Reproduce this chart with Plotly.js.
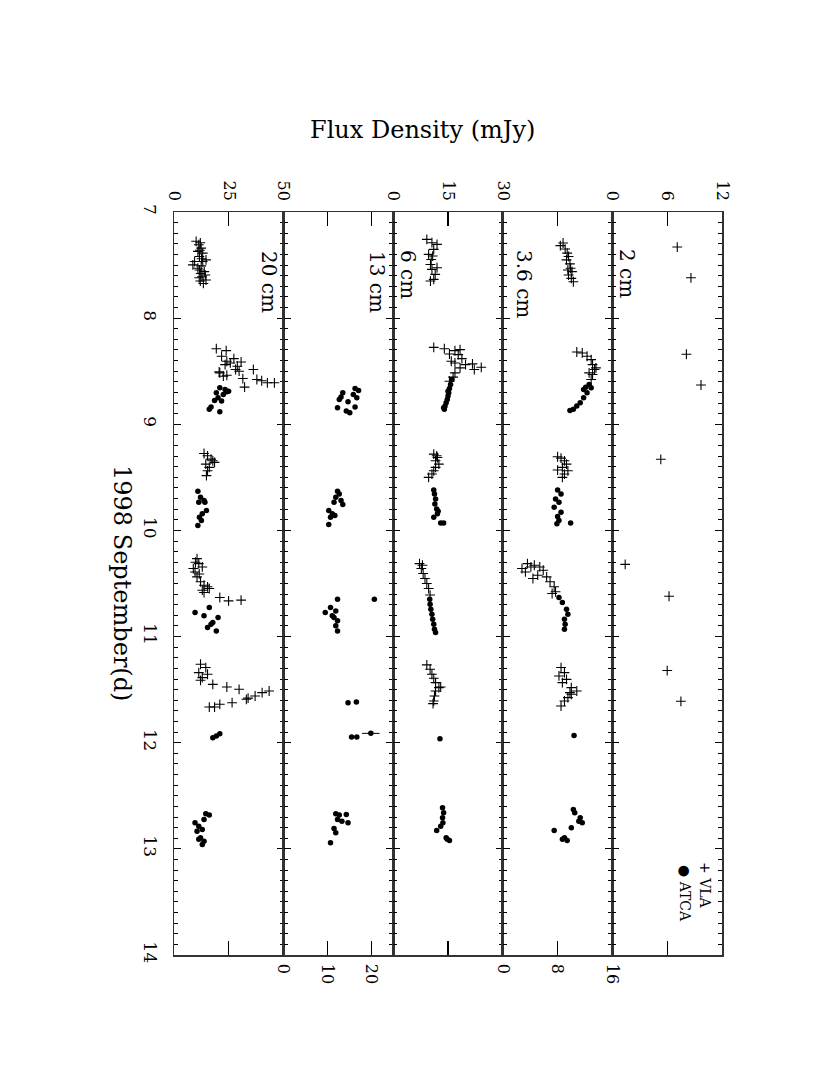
<!DOCTYPE html>
<html>
<head>
<meta charset="utf-8">
<script src="https://cdn.plot.ly/plotly-3.0.1.min.js"></script>
<style>
html,body{margin:0;padding:0;background:#fff;}
#chart{width:830px;height:1074px;}
</style>
</head>
<body>
<div id="chart"></div>
<script>
// ---------- DATA (time in 1998 September days, flux in mJy) ----------
const bands = ["20 cm", "13 cm", "6 cm", "3.6 cm", "2 cm"];
const fluxRanges = [[0, 50], [0, 25], [0, 30], [0, 16], [0, 12]];
const fluxTicks = [[0, 25, 50], [0, 10, 20], [0, 15, 30], [0, 8, 16], [0, 6, 12]];
const timeRange = [7, 14];

// 20 cm
const vla20_t = [7.276,7.308,7.34,7.371,7.387,7.419,7.467,7.467,7.451,7.508,7.546,7.562,7.61,7.641,7.673,7.498,7.53,7.594,7.29,7.36,7.44,7.58,7.65,7.62,
  8.288,8.306,8.359,8.406,8.381,8.413,8.453,8.438,8.506,8.538,8.5,8.484,8.569,8.578,8.609,8.609,8.65,8.422,8.547,8.516,8.484,8.59,
  9.275,9.297,9.328,9.359,9.375,9.406,9.438,9.484,9.344,
  10.266,10.313,10.359,10.391,10.344,10.438,10.484,10.516,10.531,10.563,10.547,10.585,10.632,10.664,10.657,10.30,10.41,
  11.261,11.292,11.34,11.387,11.355,11.412,11.45,11.475,11.497,11.528,11.513,11.56,11.591,11.623,11.638,11.664,11.664,11.58];
const vla20_f = [10.1,11.3,12.4,10.9,13.1,11.6,9.4,13.1,14.6,12.4,11.6,13.8,12.8,14.6,13.4,8.6,10.9,14.3,12.0,11.8,12.6,12.2,12.0,11.5,
  19.3,23.8,21.7,24.1,27.3,30.6,28.9,23.3,20.6,24.1,29.7,36.2,31.4,37.8,42.6,45.8,32.2,25.7,22.5,20.9,28.1,40.0,
  13.7,15.3,16.9,18.5,14.5,16.1,15.3,14.8,17.7,
  10.5,11.3,8.8,9.6,12.9,10.5,12.1,13.7,15.3,12.9,16.1,13.7,20.9,24.9,30.6,9.8,11.5,
  12.1,14.5,11.3,12.9,15.3,12.1,17.7,24.1,29.7,40.2,43.4,37.0,33.0,26.5,20.9,18.5,16.1,33.8];
const atca20_t = [8.656,8.672,8.688,8.703,8.719,8.75,8.775,8.781,8.838,8.859,8.881,8.694,
  9.631,9.688,9.719,9.734,9.813,9.844,9.875,9.906,9.953,9.734,
  10.774,10.805,10.726,10.82,10.868,10.915,10.947,10.884,
  11.937,11.915,11.953,
  12.67,12.682,12.723,12.755,12.786,12.818,12.833,12.896,12.928,12.959,12.91];
const atca20_f = [20.9,23.3,24.9,19.3,22.5,20.1,18.5,21.7,16.9,16.1,20.9,24.1,
  10.9,12.1,13.7,11.3,14.8,12.9,11.6,12.5,10.9,14.1,
  9.6,13.7,16.1,20.1,17.7,15.3,19.3,16.9,
  19.3,20.9,17.7,
  14.5,16.1,13.7,9.6,11.3,12.9,10.5,12.1,13.7,12.9,11.3];

// 13 cm (ATCA only)
const atca13_t = [8.663,8.681,8.703,8.719,8.75,8.766,8.788,8.844,8.838,8.875,8.891,8.744,
  9.631,9.656,9.688,9.719,9.756,9.734,9.813,9.844,9.875,9.944,9.86,
  10.648,10.648,10.774,10.726,10.758,10.805,10.852,10.899,10.947,10.82,
  11.623,11.616,11.947,11.947,11.912,
  12.67,12.682,12.676,12.723,12.755,12.808,12.849,12.943,12.739];
const atca13_f = [16.3,17.1,13.5,15.9,16.7,12.7,14.7,12.3,16.3,14.3,15.1,13.1,
  12.3,12.7,11.9,13.1,13.5,11.5,10.3,11.1,10.7,10.3,11.7,
  12.3,20.7,9.5,10.7,11.9,11.1,12.3,11.9,12.3,11.5,
  14.7,16.6,15.5,16.7,19.9,
  11.9,12.7,14.3,12.3,14.7,11.5,11.9,10.7,13.3];
const atca13_err = [0,0,0,0,0,0,0,0,0,0,0,0,
  0,0,0,0,0,0,0,0,0,0,0,
  0,0,0,0,0,0,0,0,0,0,
  0,0,0,0,2.0,
  0,0,0,0,0,0,0,0,0];

// 6 cm
const vla6_t = [7.258,7.289,7.305,7.352,7.399,7.447,7.494,7.541,7.588,7.635,7.65,7.525,7.415,
  8.275,8.288,8.306,8.297,8.338,8.344,8.406,8.381,8.422,8.438,8.431,8.463,8.484,8.469,8.516,8.556,8.594,
  9.281,9.313,9.344,9.375,9.406,9.438,9.469,9.5,9.297,
  10.313,10.359,10.406,10.453,10.5,10.547,10.609,10.328,
  11.267,11.308,11.355,11.393,11.434,11.481,11.513,11.56,11.607,11.632,11.475];
const vla6_f = [9.2,10.6,12.0,11.1,9.7,10.4,10.2,10.6,11.5,11.1,10.2,12.0,10.8,
  11.1,14.0,16.9,18.3,15.4,17.8,15.9,18.8,16.9,19.8,21.7,24.1,22.2,18.3,16.9,16.4,15.4,
  11.1,12.1,11.6,12.5,11.6,11.1,10.6,9.7,11.9,
  7.2,7.7,8.2,8.7,9.2,9.7,10.1,8.0,
  9.2,10.1,10.6,11.1,11.6,12.5,11.6,11.3,11.1,10.9,13.0];
const atca6_t = [8.578,8.625,8.663,8.703,8.734,8.766,8.797,8.828,8.859,8.844,8.688,
  9.619,9.656,9.703,9.75,9.797,9.844,9.875,9.931,9.931,9.82,
  10.648,10.695,10.742,10.789,10.836,10.884,10.931,10.962,
  11.962,
  12.613,12.66,12.708,12.755,12.786,12.827,12.896,12.921,12.91];
const atca6_f = [16.1,15.7,15.4,15.2,15.0,14.8,14.5,14.2,14.0,13.8,15.0,
  11.1,11.3,11.6,11.4,11.9,12.1,11.1,13.0,13.8,12.3,
  10.0,10.1,10.3,10.6,10.8,11.1,11.3,11.6,
  12.8,
  13.5,13.8,13.5,13.6,13.0,11.9,14.5,15.4,14.8];

// 3.6 cm
const vla36_t = [7.317,7.292,7.349,7.387,7.419,7.451,7.489,7.53,7.562,7.594,7.625,7.657,7.546,
  8.319,8.328,8.359,8.391,8.438,8.484,8.469,8.531,8.578,8.516,
  9.306,9.319,9.344,9.375,9.406,9.431,9.438,9.469,9.5,
  10.359,10.313,10.344,10.328,10.344,10.375,10.453,10.422,10.438,10.484,10.531,10.578,10.594,10.391,
  11.292,11.34,11.371,11.403,11.434,11.481,11.513,11.544,11.575,11.607,11.654,11.528];
const vla36_f = [8.4,8.8,9.1,9.4,9.6,9.3,9.8,9.9,10.1,9.6,10.0,10.3,9.5,
  10.8,11.6,12.3,12.9,13.1,13.4,13.6,13.1,12.9,12.6,
  8.0,8.5,9.0,9.3,8.7,8.0,9.5,9.0,8.7,
  2.8,3.6,4.1,4.6,5.4,5.9,4.4,5.1,6.4,6.9,7.5,7.7,7.2,3.3,
  8.5,9.0,8.2,9.3,8.7,10.0,10.8,10.0,9.5,9.0,8.5,9.8];
const atca36_t = [8.625,8.65,8.656,8.703,8.75,8.797,8.828,8.859,8.869,8.672,
  9.619,9.656,9.703,9.734,9.781,9.828,9.869,9.906,9.931,9.938,
  10.632,10.679,10.742,10.789,10.836,10.884,10.931,
  11.931,
  12.629,12.66,12.708,12.755,12.802,12.827,12.896,12.921,12.91,12.739];
const atca36_f = [12.6,12.1,12.9,12.3,11.8,11.3,10.8,10.3,9.8,11.8,
  8.0,8.5,7.7,8.2,7.5,8.5,8.0,8.2,9.9,7.9,
  8.2,8.7,9.3,9.5,9.0,9.1,9.0,
  10.4,
  10.3,10.5,11.3,11.6,10.0,7.5,9.0,9.4,8.7,11.1];

// 2 cm (VLA only)
const vla2_t = [7.33,7.62,8.34,8.63,9.33,10.32,10.62,11.32,11.61];
const vla2_f = [7.1,8.6,8.1,9.7,5.3,1.4,6.2,6.0,7.5];

// ---------- PLOT ----------
const FONT = "DejaVu Serif";
const crossMarker = {symbol: "cross-thin-open", size: 7, color: "#000", line: {width: 1.1, color: "#000"}};
const dotMarker = {symbol: "circle", size: 5.5, color: "#000", line: {width: 0}};

function axId(i) { return i === 0 ? "" : String(i + 1); }
function vla(x, y, i) {
  return {type: "scatter", mode: "markers", x: x, y: y, marker: crossMarker,
    xaxis: "x" + axId(i), yaxis: "y" + axId(i), showlegend: false, hoverinfo: "skip"};
}
function atca(x, y, i, err) {
  const tr = {type: "scatter", mode: "markers", x: x, y: y, marker: dotMarker,
    xaxis: "x" + axId(i), yaxis: "y" + axId(i), showlegend: false, hoverinfo: "skip"};
  if (err) tr.error_x = {type: "data", array: err, visible: true, color: "#000", thickness: 1, width: 0};
  return tr;
}

const traces = [
  vla(vla20_f, vla20_t, 0), atca(atca20_f, atca20_t, 0),
  atca(atca13_f, atca13_t, 1, atca13_err),
  vla(vla6_f, vla6_t, 2), atca(atca6_f, atca6_t, 2),
  vla(vla36_f, vla36_t, 3), atca(atca36_f, atca36_t, 3),
  vla(vla2_f, vla2_t, 4)
];

const layout = {
  width: 830, height: 1074,
  margin: {l: 174, r: 108, t: 212, b: 119, pad: 0},
  paper_bgcolor: "#fff", plot_bgcolor: "#fff",
  font: {family: FONT, color: "#000", size: 16},
  showlegend: false,
  annotations: []
};

const sides = ["top", "bottom", "top", "bottom", "top"];
for (let i = 0; i < 5; i++) {
  layout["xaxis" + axId(i)] = {
    domain: [i / 5, (i + 1) / 5], range: fluxRanges[i], side: sides[i],
    anchor: "y" + axId(i),
    tickmode: "array", tickvals: fluxTicks[i], ticktext: fluxTicks[i].map(String),
    ticks: "inside", ticklen: 14, tickwidth: 1.2, tickcolor: "#000",
    mirror: "allticks", showline: true, linecolor: "#333", linewidth: 1.5,
    showgrid: false, zeroline: false, tickangle: 90,
    tickfont: {family: FONT, size: 16, color: "#000"}, ticklabelstandoff: 4
  };
  const ya = {
    range: [timeRange[1], timeRange[0]], anchor: "x" + axId(i),
    tickmode: "linear", tick0: 7, dtick: 1,
    ticks: "inside", ticklen: 7, tickwidth: 1.2, tickcolor: "#000",
    minor: {tickmode: "linear", tick0: 7, dtick: 0.1, ticks: "inside", ticklen: 4, tickwidth: 1, tickcolor: "#000", showgrid: false},
    mirror: "allticks", showline: true, linecolor: "#333", linewidth: 1.5,
    showgrid: false, zeroline: false, tickangle: 90,
    showticklabels: i === 0,
    tickfont: {family: FONT, size: 17, color: "#000"}, ticklabelstandoff: 8
  };
  if (i > 0) ya.matches = "y";
  layout["yaxis" + axId(i)] = ya;
}

function px2paperX(px) { return (px - 174) / 548; }
function px2paperY(py) { return (955 - py) / 743; }
function ann(text, px, py, size, angle) {
  layout.annotations.push({text: text, xref: "paper", yref: "paper",
    x: px2paperX(px), y: px2paperY(py), xanchor: "center", yanchor: "middle",
    showarrow: false, textangle: angle, font: {family: FONT, size: size, color: "#000"}});
}

ann("Flux Density (mJy)", 422, 130, 24, 0);
ann("1998 September(d)", 122, 583, 24, 90);
const labelPos = [[269, 282], [377, 282], [408, 274], [524, 284], [627, 273]];
for (let i = 0; i < 5; i++) ann(bands[i], labelPos[i][0], labelPos[i][1], 20, 90);
ann("+ VLA", 705, 885, 14, 90);
ann("● ATCA", 685, 893, 14, 90);

Plotly.newPlot("chart", traces, layout, {staticPlot: true, displayModeBar: false});
</script>
</body>
</html>
